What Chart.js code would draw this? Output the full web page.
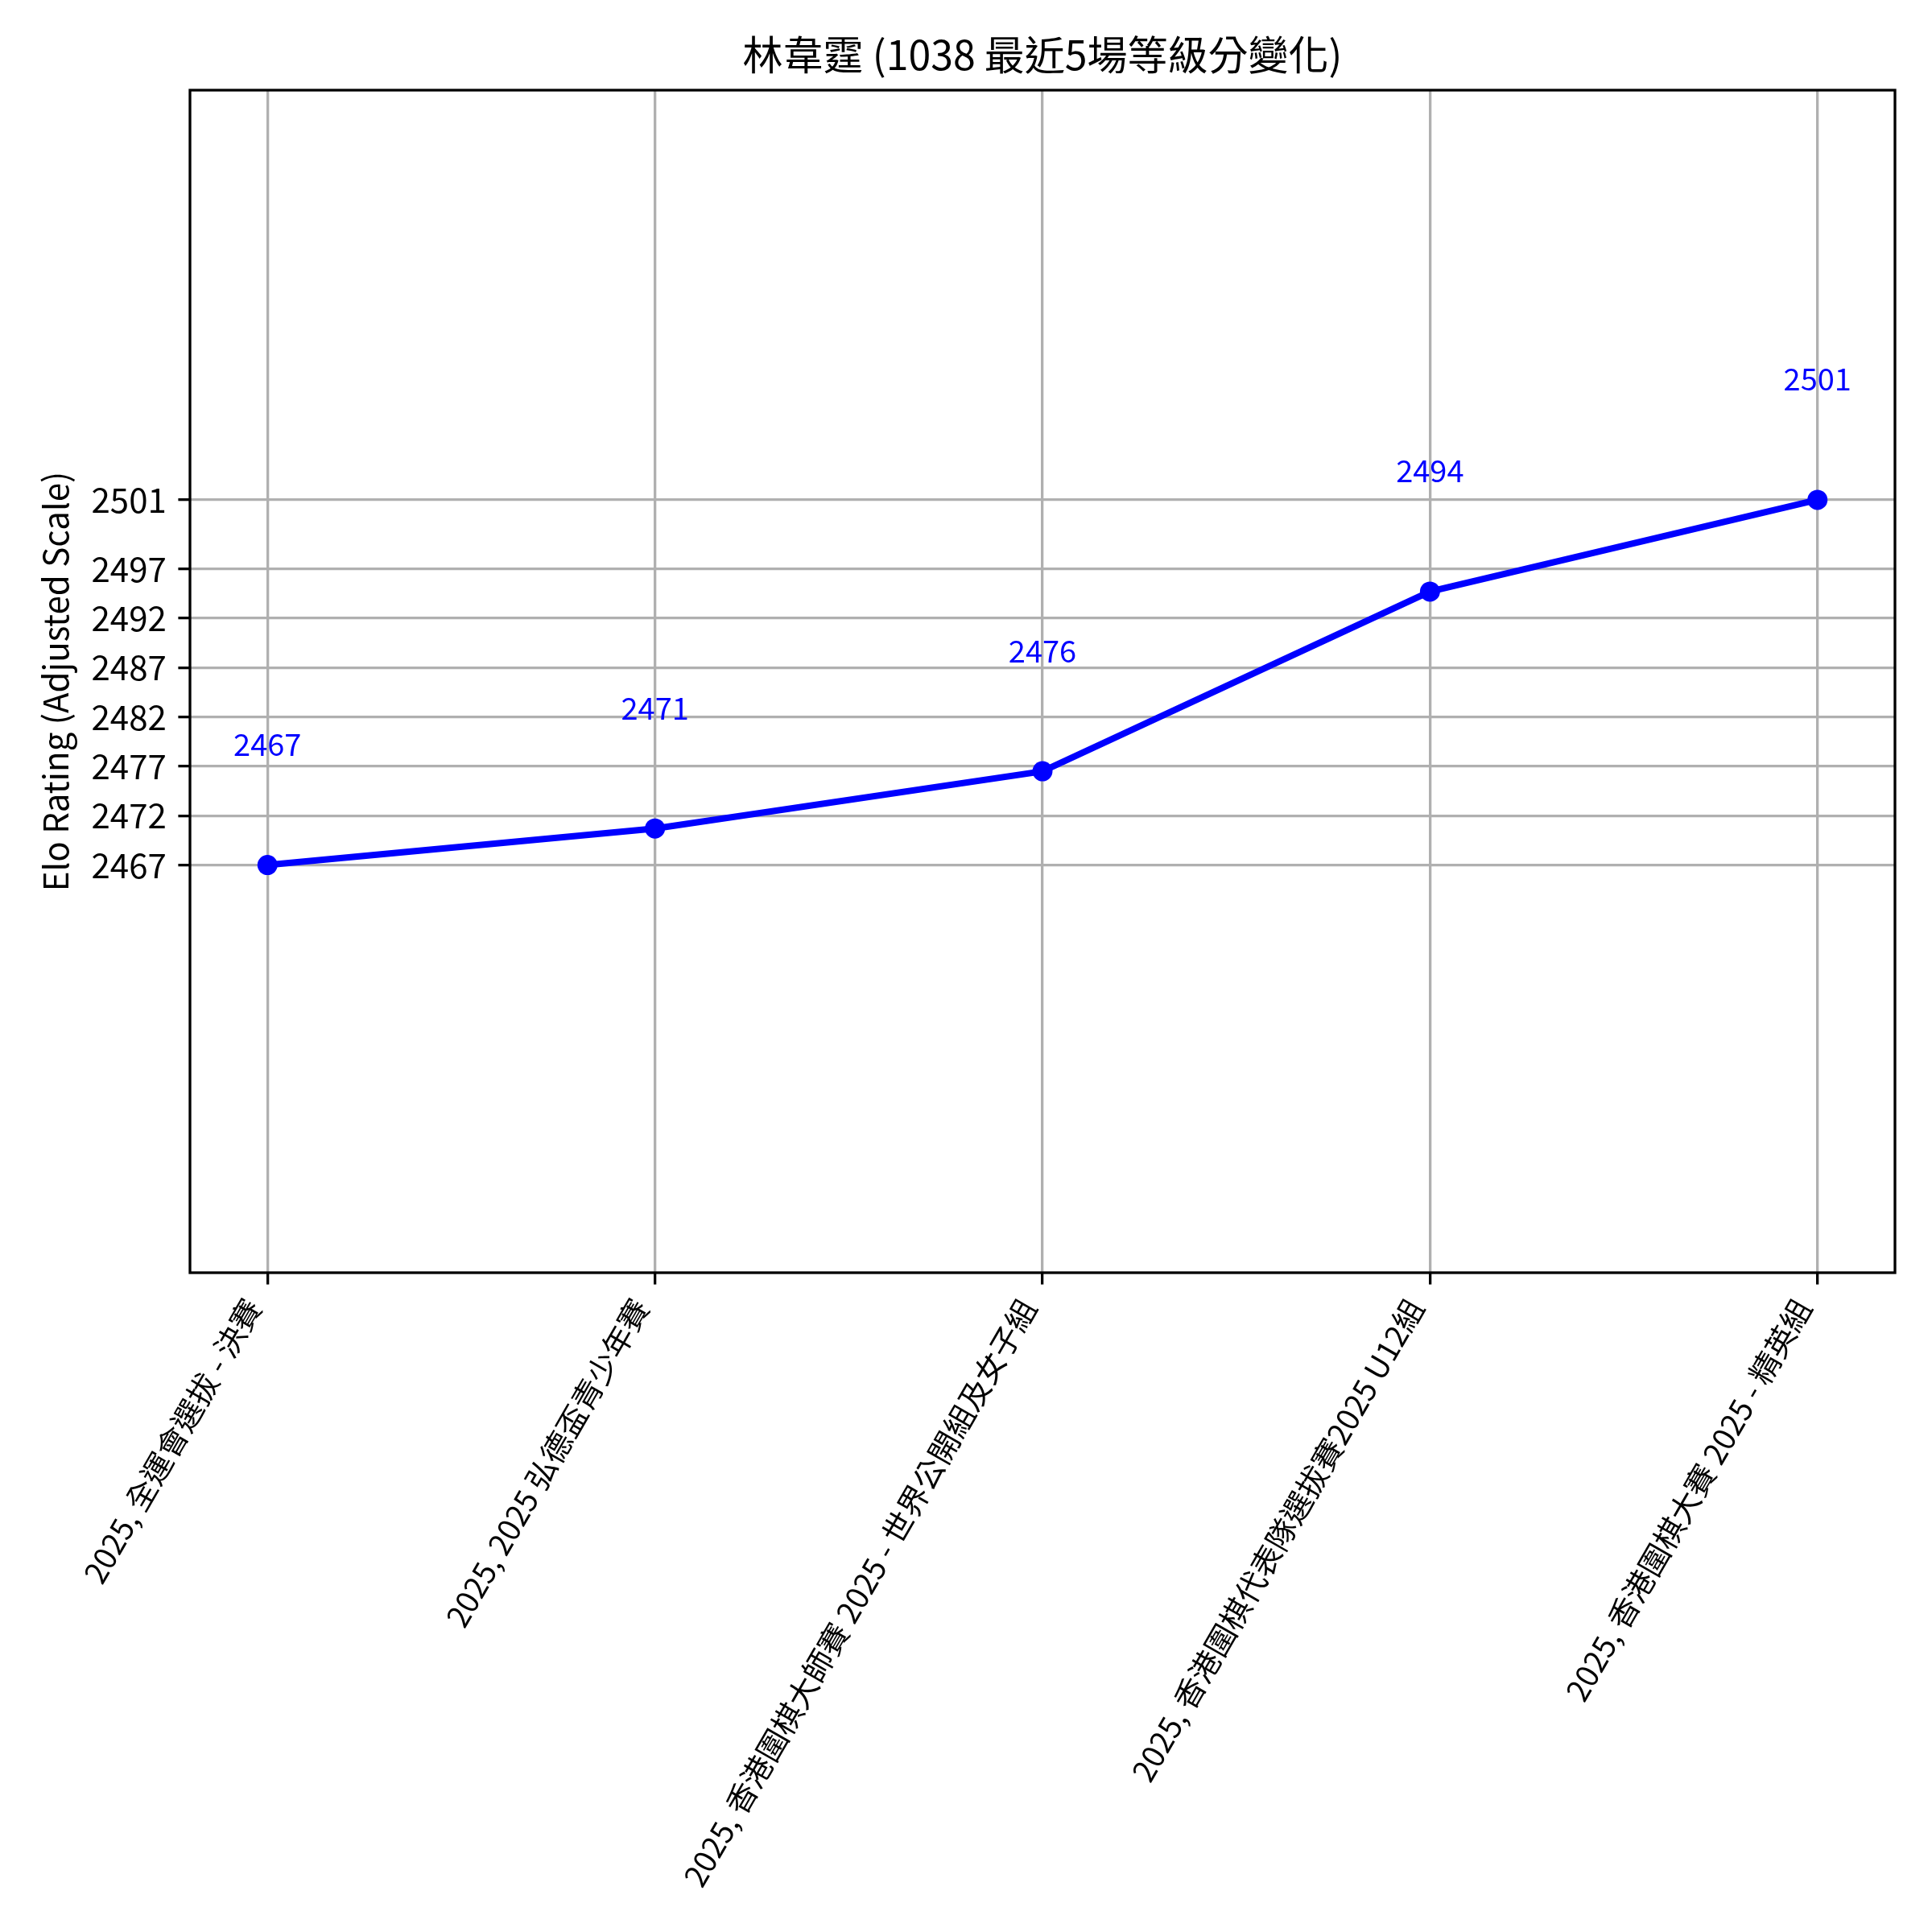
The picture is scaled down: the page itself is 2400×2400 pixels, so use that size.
<!DOCTYPE html>
<html>
<head>
<meta charset="utf-8">
<script src="https://cdn.jsdelivr.net/npm/chart.js@4.4.1/dist/chart.umd.min.js"></script>
<style>
  body { margin: 0; background: #fff; }
  canvas { display: block; }
</style>
</head>
<body>
<canvas id="eloChart" width="2400" height="2400"></canvas>
<script>
const FONT = "'Noto Sans CJK TC', 'Noto Sans', sans-serif";

const chartTitle = '林韋霆 (1038 最近5場等級分變化)';
// events (x categories)
const eventLabels = [
  '2025, 全運會選拔 - 決賽',
  '2025, 2025 弘德盃青少年賽',
  '2025, 香港圍棋大師賽 2025 - 世界公開組及女子組',
  '2025, 香港圍棋代表隊選拔賽2025 U12組',
  '2025, 香港圍棋大賽 2025 - 精英組'
];
// plotted position on the adjusted scale
const adjustedRatings = [2467, 2470.7, 2476.5, 2494.7, 2504];
// numbers written above each point
const ratingLabels = ['2467', '2471', '2476', '2494', '2501'];
// y ticks
const yTickValues = [2467, 2472, 2477, 2482, 2487, 2492, 2497, 2504];
const yTickLabels = ['2467', '2472', '2477', '2482', '2487', '2492', '2497', '2501'];

const points = adjustedRatings.map((v, i) => ({ x: i, y: v }));

// axes box + title centred over the plot area (like matplotlib)
const frame = {
  id: 'frame',
  afterDraw(chart) {
    const { ctx, chartArea: a } = chart;
    ctx.save();
    ctx.strokeStyle = '#000';
    ctx.lineWidth = 3.3;
    ctx.strokeRect(a.left, a.top, a.right - a.left, a.bottom - a.top);
    ctx.fillStyle = '#000';
    ctx.font = '50px ' + FONT;
    ctx.textAlign = 'center';
    ctx.textBaseline = 'middle';
    ctx.fillText(chartTitle, (a.left + a.right) / 2, 68);
    ctx.restore();
  }
};

const valueLabels = {
  id: 'valueLabels',
  afterDatasetsDraw(chart) {
    const { ctx } = chart;
    const meta = chart.getDatasetMeta(0);
    ctx.save();
    ctx.fillStyle = '#0000ff';
    ctx.font = '38px ' + FONT;
    ctx.textAlign = 'center';
    ctx.textBaseline = 'middle';
    meta.data.forEach((pt, i) => {
      ctx.fillText(ratingLabels[i], pt.x, pt.y - 150);
    });
    ctx.restore();
  }
};

new Chart(document.getElementById('eloChart'), {
  type: 'line',
  data: {
    datasets: [{
      data: points,
      borderColor: '#0000ff',
      backgroundColor: '#0000ff',
      borderWidth: 8,
      pointRadius: 12.5,
      pointHoverRadius: 12.5,
      pointBorderWidth: 0,
      tension: 0,
      fill: false
    }]
  },
  options: {
    responsive: false,
    animation: false,
    devicePixelRatio: 1,
    layout: { padding: { left: 0, right: 46, top: 112, bottom: 0 } },
    plugins: {
      legend: { display: false },
      tooltip: { enabled: false },
      title: { display: false }
    },
    scales: {
      x: {
        type: 'linear',
        min: -0.2,
        max: 4.2,
        afterBuildTicks: s => { s.ticks = eventLabels.map((_, i) => ({ value: i })); },
        afterFit: s => { s.height = 819; s.paddingLeft = 0; s.paddingRight = 0; },
        border: { display: false },
        grid: { color: '#b0b0b0', lineWidth: 3.3, tickColor: '#000', tickWidth: 3.3, tickLength: 14.6 },
        ticks: {
          autoSkip: false,
          minRotation: 60,
          maxRotation: 60,
          padding: 10,
          labelOffset: -18,
          color: '#000',
          font: { family: FONT, size: 38 },
          callback: (v, i) => eventLabels[i]
        }
      },
      y: {
        min: 2425.7,
        max: 2545.5,
        afterBuildTicks: s => { s.ticks = yTickValues.map(v => ({ value: v })); },
        afterFit: s => { s.width = 236; s.paddingTop = 0; s.paddingBottom = 0; },
        border: { display: false },
        grid: { color: '#b0b0b0', lineWidth: 3.3, tickColor: '#000', tickWidth: 3.3, tickLength: 14.6 },
        ticks: {
          autoSkip: false,
          padding: 14.6,
          color: '#000',
          font: { family: FONT, size: 42 },
          callback: (v, i) => yTickLabels[i]
        },
        title: {
          display: true,
          text: 'Elo Rating (Adjusted Scale)',
          color: '#000',
          font: { family: FONT, size: 42 },
          padding: { top: 44, bottom: 0 }
        }
      }
    }
  },
  plugins: [frame, valueLabels]
});
</script>
</body>
</html>
